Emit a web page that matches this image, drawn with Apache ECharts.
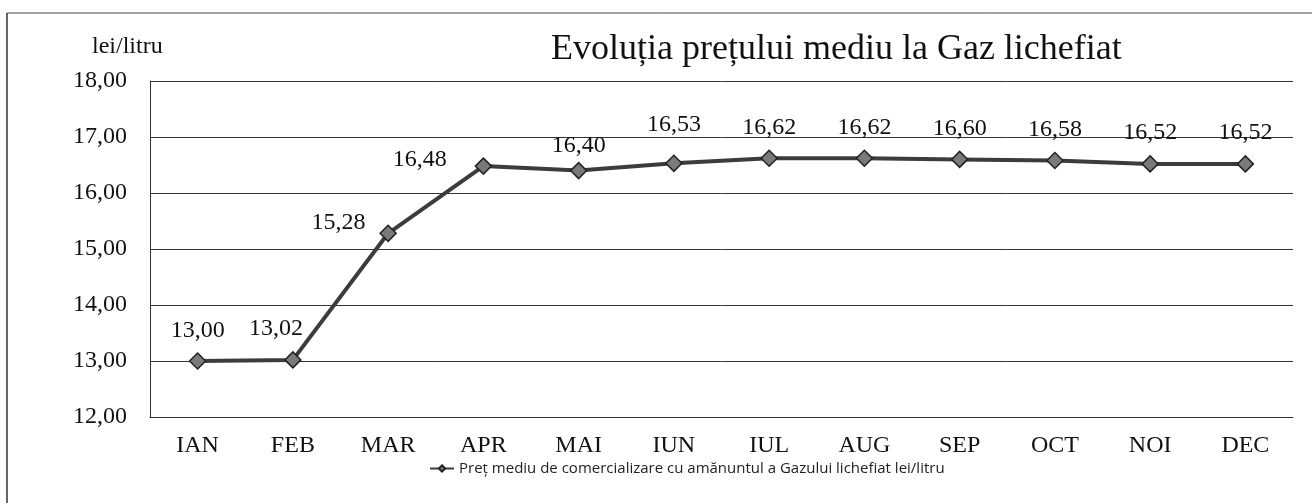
<!DOCTYPE html>
<html>
<head>
<meta charset="utf-8">
<script src="https://cdn.jsdelivr.net/npm/echarts@6/dist/echarts.min.js"></script>
<style>
  html, body { margin: 0; padding: 0; background: #fff; }
  #main { width: 1312px; height: 503px; }
</style>
</head>
<body>
<div id="main"></div>
<script>
// date
var luni = ['IAN', 'FEB', 'MAR', 'APR', 'MAI', 'IUN', 'IUL', 'AUG', 'SEP', 'OCT', 'NOI', 'DEC'];
var preturi = [13.00, 13.02, 15.28, 16.48, 16.40, 16.53, 16.62, 16.62, 16.60, 16.58, 16.52, 16.52];
var numeSerie = 'Preț mediu de comercializare cu amănuntul a Gazului lichefiat lei/litru';
var titlu = 'Evoluția prețului mediu la Gaz lichefiat';

var serif = '"Liberation Serif", "DejaVu Serif", serif';

function virgula(v) {
  return v.toFixed(2).replace('.', ',');
}

// cateva etichete stau mai la stanga ca in original
var mutari = {
  1: { offset: [-17, 0] },
  2: { position: 'left', distance: 14, offset: [0, -11] },
  3: { position: 'left', distance: 28, offset: [0, -6] },
  4: { distance: 4 },
  5: { distance: 18 }
};

var myChart = echarts.init(document.getElementById('main'));

var option = {
  backgroundColor: '#fff',
  animation: false,
  title: {
    text: titlu,
    left: 546,
    top: 27,
    textStyle: { fontFamily: serif, fontWeight: 'normal', fontSize: 36, color: '#111' }
  },
  legend: {
    bottom: 22,
    left: 424,
    itemWidth: 24,
    itemHeight: 8,
    itemGap: 2,
    textStyle: { fontFamily: '"Open Sans", "Noto Sans", sans-serif', fontSize: 15, color: '#222' },
    data: [numeSerie]
  },
  grid: { left: 150, right: 19, top: 81, bottom: 86 },
  xAxis: {
    type: 'category',
    data: luni,
    boundaryGap: true,
    axisLine: { show: true, lineStyle: { color: '#333', width: 1 } },
    axisTick: { show: false },
    axisLabel: { fontFamily: serif, fontSize: 24, color: '#111', margin: 17 }
  },
  yAxis: {
    type: 'value',
    min: 12,
    max: 18,
    interval: 1,
    axisLine: { show: true, lineStyle: { color: '#333', width: 1 } },
    axisTick: { show: false },
    splitLine: { lineStyle: { color: '#333', width: 1 } },
    axisLabel: {
      fontFamily: serif, fontSize: 24, color: '#111', margin: 23,
      formatter: function (v) { return virgula(v); }
    }
  },
  graphic: [
    { type: 'line', shape: { x1: 7, y1: 13, x2: 1312, y2: 13 }, style: { stroke: '#444', lineWidth: 1 } },
    { type: 'line', shape: { x1: 7, y1: 13, x2: 7, y2: 503 }, style: { stroke: '#333', lineWidth: 1.5 } },
    { type: 'text', left: 92, top: 35, style: { text: 'lei/litru', font: '24px ' + serif, fill: '#111' } }
  ],
  series: [{
    name: numeSerie,
    type: 'line',
    data: preturi.map(function (v, i) {
      var d = { value: v };
      if (mutari[i]) d.label = mutari[i];
      return d;
    }),
    symbol: 'diamond',
    symbolSize: 16,
    lineStyle: { color: '#3c3c3c', width: 4 },
    itemStyle: { color: '#7a7a7a', borderColor: '#222', borderWidth: 1.5 },
    label: {
      show: true,
      position: 'top',
      distance: 10,
      fontFamily: serif,
      fontSize: 24,
      color: '#111',
      formatter: function (p) { return virgula(p.value); }
    }
  }]
};

myChart.setOption(option);
</script>
</body>
</html>
